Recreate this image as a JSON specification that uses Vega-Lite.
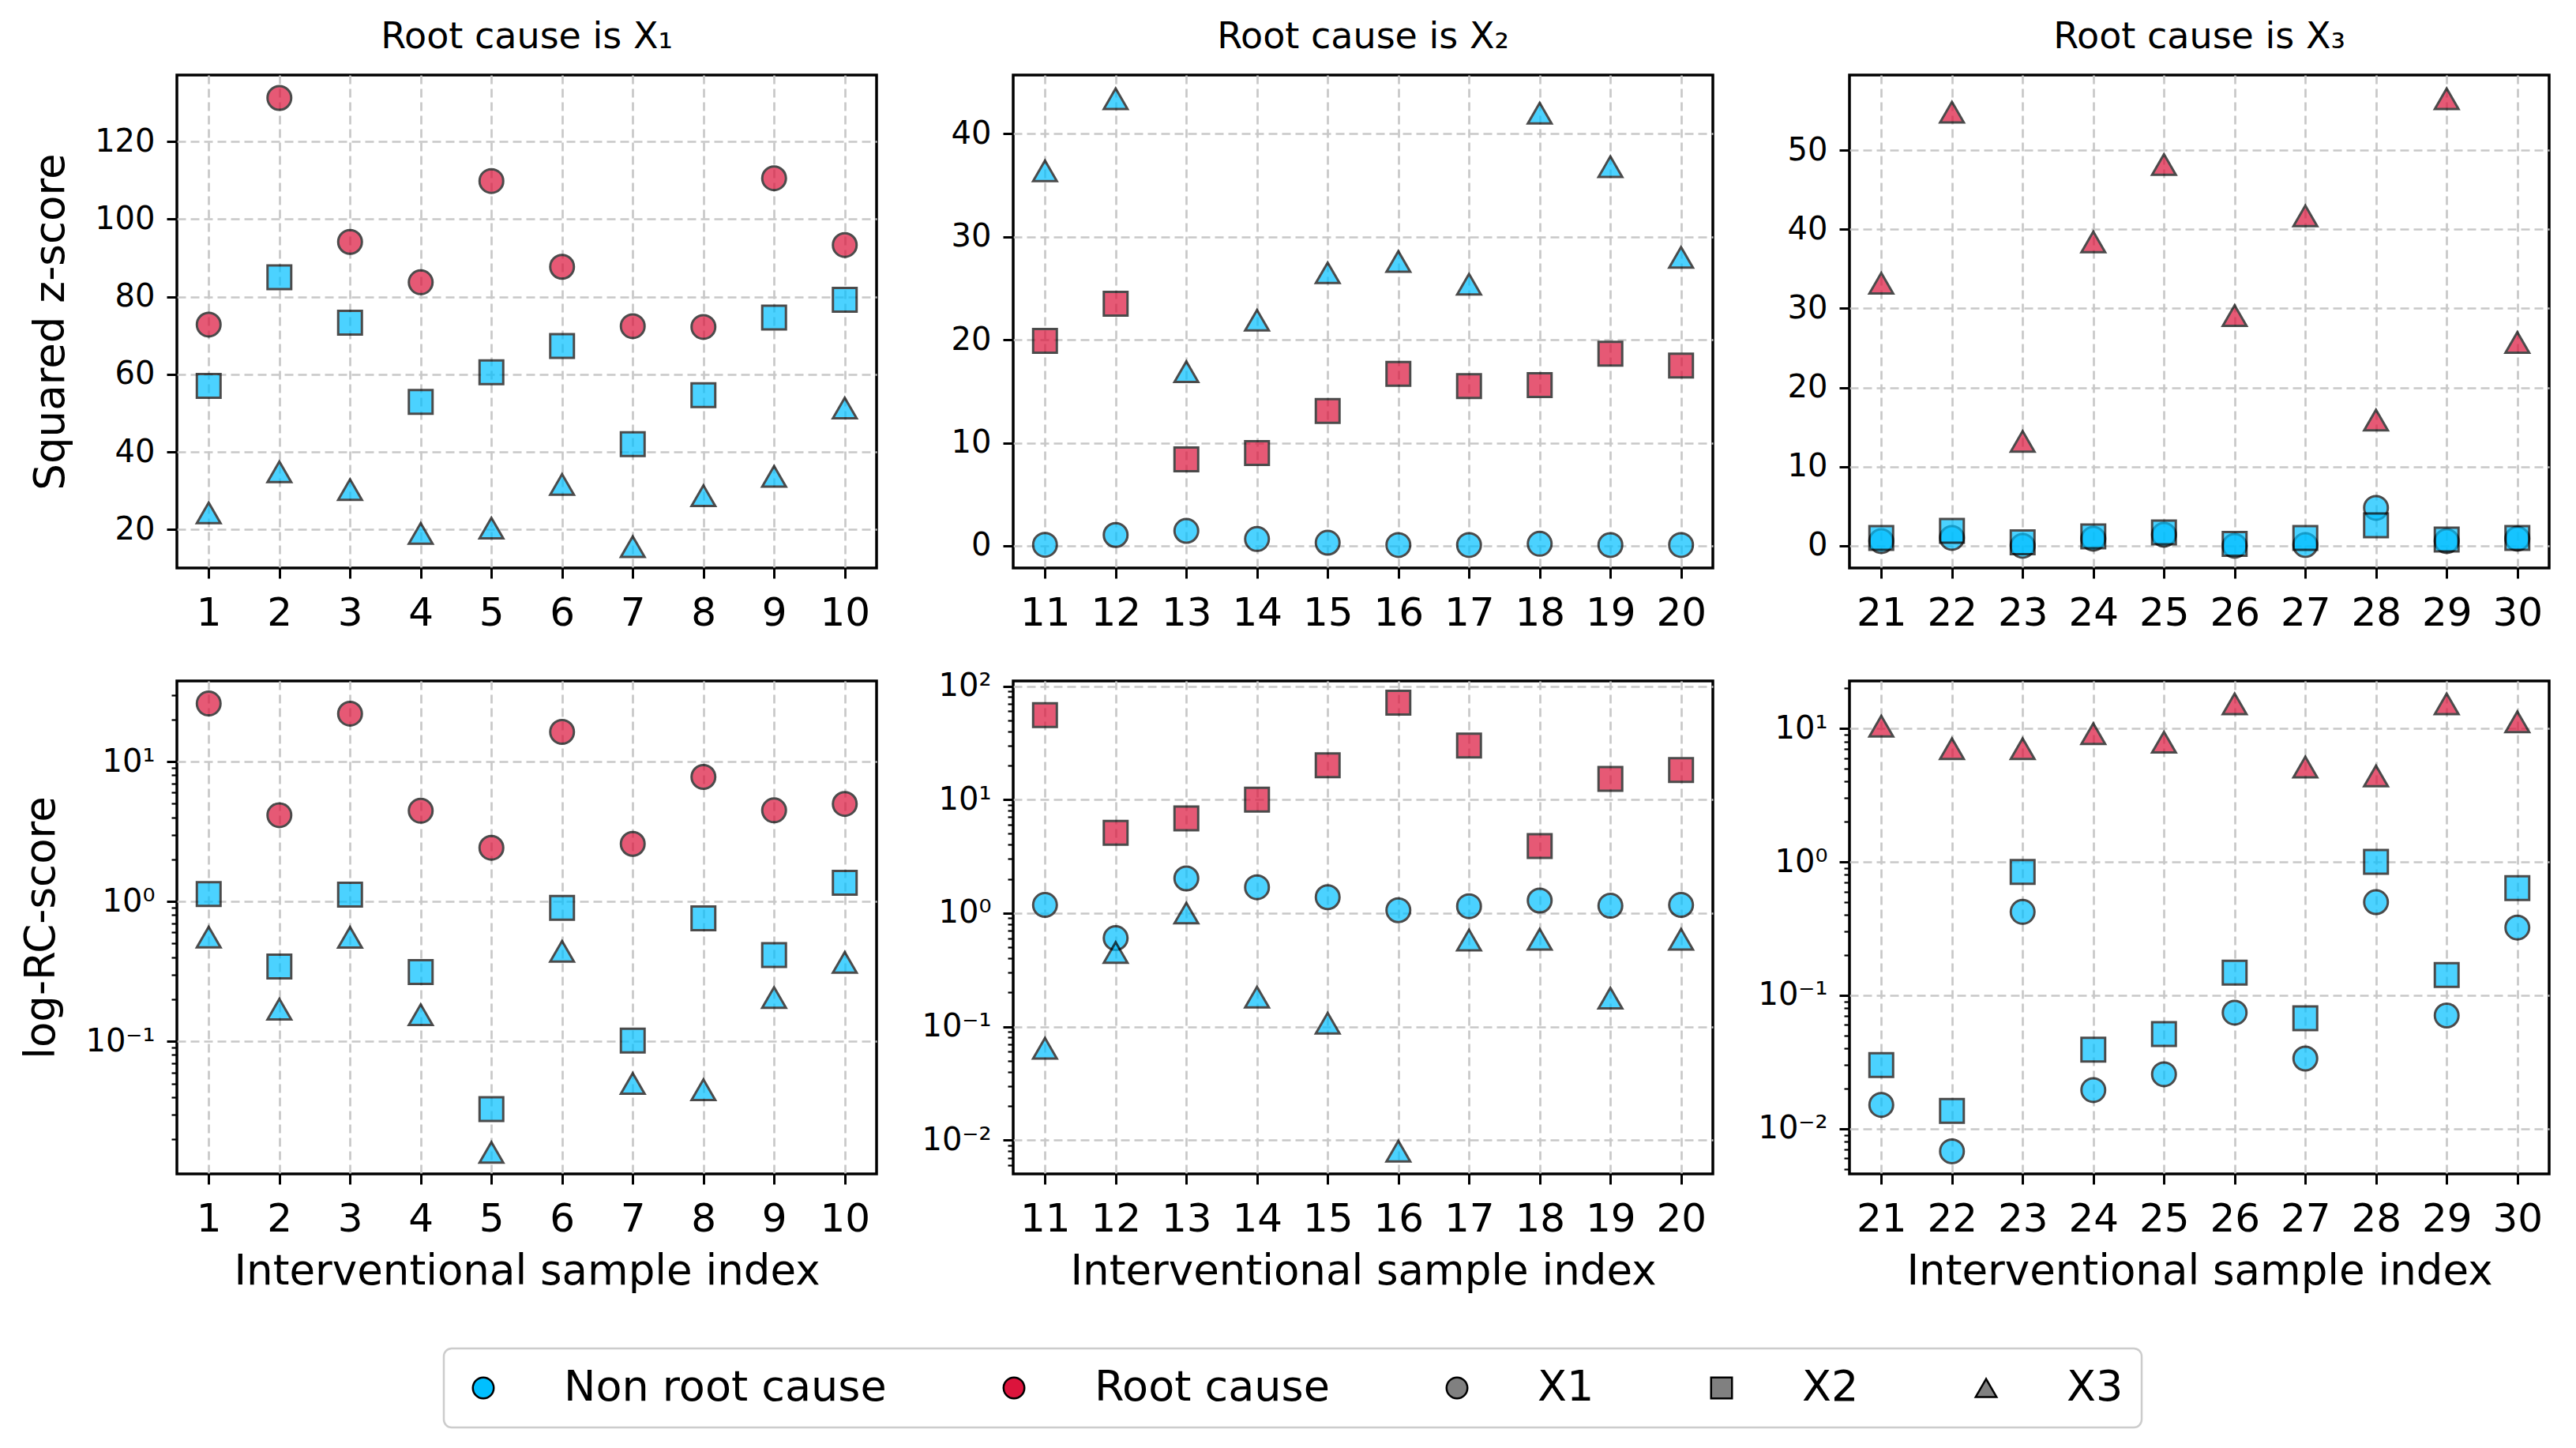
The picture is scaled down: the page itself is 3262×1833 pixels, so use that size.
{
  "$schema": "https://vega.github.io/schema/vega-lite/v6.json",
  "background": "white",
  "padding": {"left": 25, "top": 22, "right": 10, "bottom": 27},
  "columns": 3,
  "align": "each",
  "spacing": {"row": 43, "column": 53},
  "resolve": {"scale": {"x": "independent", "y": "independent"}},
  "data": {"values": [
    {"i":1,"v":"X1","r":"Root cause","z":72.8,"rc":26.0},
    {"i":2,"v":"X1","r":"Root cause","z":131.2,"rc":4.14},
    {"i":3,"v":"X1","r":"Root cause","z":94.1,"rc":22.0},
    {"i":4,"v":"X1","r":"Root cause","z":83.7,"rc":4.45},
    {"i":5,"v":"X1","r":"Root cause","z":109.8,"rc":2.42},
    {"i":6,"v":"X1","r":"Root cause","z":87.7,"rc":16.3},
    {"i":7,"v":"X1","r":"Root cause","z":72.4,"rc":2.58},
    {"i":8,"v":"X1","r":"Root cause","z":72.2,"rc":7.77},
    {"i":9,"v":"X1","r":"Root cause","z":110.5,"rc":4.48},
    {"i":10,"v":"X1","r":"Root cause","z":93.3,"rc":4.98},
    {"i":11,"v":"X1","r":"Non root cause","z":0.1,"rc":1.18},
    {"i":12,"v":"X1","r":"Non root cause","z":1.05,"rc":0.602},
    {"i":13,"v":"X1","r":"Non root cause","z":1.45,"rc":2.02},
    {"i":14,"v":"X1","r":"Non root cause","z":0.66,"rc":1.69},
    {"i":15,"v":"X1","r":"Non root cause","z":0.3,"rc":1.38},
    {"i":16,"v":"X1","r":"Non root cause","z":0.08,"rc":1.06},
    {"i":17,"v":"X1","r":"Non root cause","z":0.08,"rc":1.15},
    {"i":18,"v":"X1","r":"Non root cause","z":0.2,"rc":1.29},
    {"i":19,"v":"X1","r":"Non root cause","z":0.08,"rc":1.16},
    {"i":20,"v":"X1","r":"Non root cause","z":0.08,"rc":1.18},
    {"i":21,"v":"X1","r":"Non root cause","z":0.6,"rc":0.0151},
    {"i":22,"v":"X1","r":"Non root cause","z":1.0,"rc":0.00678},
    {"i":23,"v":"X1","r":"Non root cause","z":0.0,"rc":0.422},
    {"i":24,"v":"X1","r":"Non root cause","z":0.9,"rc":0.0195},
    {"i":25,"v":"X1","r":"Non root cause","z":1.4,"rc":0.0256},
    {"i":26,"v":"X1","r":"Non root cause","z":0.0,"rc":0.0741},
    {"i":27,"v":"X1","r":"Non root cause","z":0.1,"rc":0.0336},
    {"i":28,"v":"X1","r":"Non root cause","z":4.8,"rc":0.499},
    {"i":29,"v":"X1","r":"Non root cause","z":0.6,"rc":0.0706},
    {"i":30,"v":"X1","r":"Non root cause","z":0.9,"rc":0.322},
    {"i":1,"v":"X2","r":"Non root cause","z":57.0,"rc":1.13},
    {"i":2,"v":"X2","r":"Non root cause","z":85.0,"rc":0.343},
    {"i":3,"v":"X2","r":"Non root cause","z":73.3,"rc":1.12},
    {"i":4,"v":"X2","r":"Non root cause","z":52.9,"rc":0.313},
    {"i":5,"v":"X2","r":"Non root cause","z":60.5,"rc":0.0328},
    {"i":6,"v":"X2","r":"Non root cause","z":67.3,"rc":0.9},
    {"i":7,"v":"X2","r":"Non root cause","z":42.0,"rc":0.1014},
    {"i":8,"v":"X2","r":"Non root cause","z":54.6,"rc":0.757},
    {"i":9,"v":"X2","r":"Non root cause","z":74.6,"rc":0.414},
    {"i":10,"v":"X2","r":"Non root cause","z":79.2,"rc":1.36},
    {"i":11,"v":"X2","r":"Root cause","z":19.9,"rc":55.5},
    {"i":12,"v":"X2","r":"Root cause","z":23.5,"rc":5.09},
    {"i":13,"v":"X2","r":"Root cause","z":8.4,"rc":6.84},
    {"i":14,"v":"X2","r":"Root cause","z":9.0,"rc":10.0},
    {"i":15,"v":"X2","r":"Root cause","z":13.1,"rc":20.1},
    {"i":16,"v":"X2","r":"Root cause","z":16.7,"rc":71.5},
    {"i":17,"v":"X2","r":"Root cause","z":15.5,"rc":30.0},
    {"i":18,"v":"X2","r":"Root cause","z":15.6,"rc":3.89},
    {"i":19,"v":"X2","r":"Root cause","z":18.65,"rc":15.2},
    {"i":20,"v":"X2","r":"Root cause","z":17.5,"rc":18.2},
    {"i":21,"v":"X2","r":"Non root cause","z":1.0,"rc":0.03},
    {"i":22,"v":"X2","r":"Non root cause","z":1.9,"rc":0.0136},
    {"i":23,"v":"X2","r":"Non root cause","z":0.45,"rc":0.84},
    {"i":24,"v":"X2","r":"Non root cause","z":1.2,"rc":0.0391},
    {"i":25,"v":"X2","r":"Non root cause","z":1.7,"rc":0.0513},
    {"i":26,"v":"X2","r":"Non root cause","z":0.25,"rc":0.148},
    {"i":27,"v":"X2","r":"Non root cause","z":1.0,"rc":0.0673},
    {"i":28,"v":"X2","r":"Non root cause","z":2.6,"rc":1.0},
    {"i":29,"v":"X2","r":"Non root cause","z":0.8,"rc":0.142},
    {"i":30,"v":"X2","r":"Non root cause","z":1.0,"rc":0.636},
    {"i":1,"v":"X3","r":"Non root cause","z":24.3,"rc":0.557},
    {"i":2,"v":"X3","r":"Non root cause","z":34.9,"rc":0.17},
    {"i":3,"v":"X3","r":"Non root cause","z":30.3,"rc":0.554},
    {"i":4,"v":"X3","r":"Non root cause","z":19.0,"rc":0.155},
    {"i":5,"v":"X3","r":"Non root cause","z":20.4,"rc":0.0161},
    {"i":6,"v":"X3","r":"Non root cause","z":31.6,"rc":0.44},
    {"i":7,"v":"X3","r":"Non root cause","z":15.6,"rc":0.0501},
    {"i":8,"v":"X3","r":"Non root cause","z":28.7,"rc":0.0451},
    {"i":9,"v":"X3","r":"Non root cause","z":33.7,"rc":0.206},
    {"i":10,"v":"X3","r":"Non root cause","z":51.3,"rc":0.367},
    {"i":11,"v":"X3","r":"Non root cause","z":36.4,"rc":0.0645},
    {"i":12,"v":"X3","r":"Non root cause","z":43.4,"rc":0.449},
    {"i":13,"v":"X3","r":"Non root cause","z":16.9,"rc":1.0},
    {"i":14,"v":"X3","r":"Non root cause","z":21.9,"rc":0.182},
    {"i":15,"v":"X3","r":"Non root cause","z":26.5,"rc":0.107},
    {"i":16,"v":"X3","r":"Non root cause","z":27.6,"rc":0.008},
    {"i":17,"v":"X3","r":"Non root cause","z":25.4,"rc":0.578},
    {"i":18,"v":"X3","r":"Non root cause","z":42.0,"rc":0.588},
    {"i":19,"v":"X3","r":"Non root cause","z":36.8,"rc":0.178},
    {"i":20,"v":"X3","r":"Non root cause","z":28.0,"rc":0.588},
    {"i":21,"v":"X3","r":"Root cause","z":33.2,"rc":10.4},
    {"i":22,"v":"X3","r":"Root cause","z":54.8,"rc":7.06},
    {"i":23,"v":"X3","r":"Root cause","z":13.2,"rc":7.06},
    {"i":24,"v":"X3","r":"Root cause","z":38.4,"rc":9.14},
    {"i":25,"v":"X3","r":"Root cause","z":48.2,"rc":7.89},
    {"i":26,"v":"X3","r":"Root cause","z":29.1,"rc":15.3},
    {"i":27,"v":"X3","r":"Root cause","z":41.7,"rc":5.13},
    {"i":28,"v":"X3","r":"Root cause","z":15.9,"rc":4.4},
    {"i":29,"v":"X3","r":"Root cause","z":56.5,"rc":15.3},
    {"i":30,"v":"X3","r":"Root cause","z":25.7,"rc":11.2}
  ]},
  "concat": [
    {
      "width": 886, "height": 624,
      "title": {"text": "Root cause is X₁"},
      "transform": [{"filter": "datum.i <= 10"}],
      "mark": {"type": "point", "filled": true, "size": 900, "stroke": "black", "strokeWidth": 3, "opacity": 0.7},
      "encoding": {
        "x": {"field": "i", "type": "quantitative", "scale": {"domain": [0.55, 10.45], "nice": false, "zero": false}, "axis": {"values": [1,2,3,4,5,6,7,8,9,10], "format": "d", "title": null}},
        "y": {"field": "z", "type": "quantitative", "scale": {"domain": [10.1, 137.1], "nice": false, "zero": false}, "axis": {"values": [20,40,60,80,100,120], "title": "Squared z-score", "titlePadding": 28}},
        "color": {"field": "r", "type": "nominal", "scale": {"domain": ["Non root cause","Root cause","X1","X2","X3"], "range": ["#00BFFF","#DC143C","#808080","#808080","#808080"]}, "legend": {"title": null, "encode": {"symbols": {"update": {"shape": {"signal": "datum.value === 'X2' ? 'square' : datum.value === 'X3' ? 'triangle-up' : 'circle'"}, "opacity": {"value": 1}, "stroke": {"value": "black"}, "strokeWidth": {"value": 2.5}}}}}},
        "shape": {"field": "v", "type": "nominal", "scale": {"domain": ["X1","X2","X3"], "range": ["circle","square","triangle-up"]}, "legend": null}
      }
    },
    {
      "width": 886, "height": 624,
      "title": {"text": "Root cause is X₂"},
      "transform": [{"filter": "datum.i > 10 && datum.i <= 20"}],
      "mark": {"type": "point", "filled": true, "size": 900, "stroke": "black", "strokeWidth": 3, "opacity": 0.7},
      "encoding": {
        "x": {"field": "i", "type": "quantitative", "scale": {"domain": [10.55, 20.45], "nice": false, "zero": false}, "axis": {"values": [11,12,13,14,15,16,17,18,19,20], "format": "d", "title": null}},
        "y": {"field": "z", "type": "quantitative", "scale": {"domain": [-2.15, 45.7], "nice": false, "zero": false}, "axis": {"values": [0,10,20,30,40], "title": null}},
        "color": {"field": "r", "type": "nominal", "scale": {"domain": ["Non root cause","Root cause","X1","X2","X3"], "range": ["#00BFFF","#DC143C","#808080","#808080","#808080"]}, "legend": {"title": null, "encode": {"symbols": {"update": {"shape": {"signal": "datum.value === 'X2' ? 'square' : datum.value === 'X3' ? 'triangle-up' : 'circle'"}, "opacity": {"value": 1}, "stroke": {"value": "black"}, "strokeWidth": {"value": 2.5}}}}}},
        "shape": {"field": "v", "type": "nominal", "scale": {"domain": ["X1","X2","X3"], "range": ["circle","square","triangle-up"]}, "legend": null}
      }
    },
    {
      "width": 886, "height": 624,
      "title": {"text": "Root cause is X₃"},
      "transform": [{"filter": "datum.i > 20"}],
      "mark": {"type": "point", "filled": true, "size": 900, "stroke": "black", "strokeWidth": 3, "opacity": 0.7},
      "encoding": {
        "x": {"field": "i", "type": "quantitative", "scale": {"domain": [20.55, 30.45], "nice": false, "zero": false}, "axis": {"values": [21,22,23,24,25,26,27,28,29,30], "format": "d", "title": null}},
        "y": {"field": "z", "type": "quantitative", "scale": {"domain": [-2.8, 59.5], "nice": false, "zero": false}, "axis": {"values": [0,10,20,30,40,50], "title": null}},
        "color": {"field": "r", "type": "nominal", "scale": {"domain": ["Non root cause","Root cause","X1","X2","X3"], "range": ["#00BFFF","#DC143C","#808080","#808080","#808080"]}, "legend": {"title": null, "encode": {"symbols": {"update": {"shape": {"signal": "datum.value === 'X2' ? 'square' : datum.value === 'X3' ? 'triangle-up' : 'circle'"}, "opacity": {"value": 1}, "stroke": {"value": "black"}, "strokeWidth": {"value": 2.5}}}}}},
        "shape": {"field": "v", "type": "nominal", "scale": {"domain": ["X1","X2","X3"], "range": ["circle","square","triangle-up"]}, "legend": null}
      }
    },
    {
      "width": 886, "height": 624,
      "transform": [{"filter": "datum.i <= 10"}],
      "mark": {"type": "point", "filled": true, "size": 900, "stroke": "black", "strokeWidth": 3, "opacity": 0.7},
      "encoding": {
        "x": {"field": "i", "type": "quantitative", "scale": {"domain": [0.55, 10.45], "nice": false, "zero": false}, "axis": {"values": [1,2,3,4,5,6,7,8,9,10], "format": "d", "title": "Interventional sample index", "titlePadding": 15}},
        "y": {"field": "rc", "type": "quantitative", "scale": {"type": "log", "domain": [0.0113, 37.7], "nice": false}, "axis": {
          "values": [0.02,0.03,0.04,0.05,0.06,0.07,0.08,0.09,0.1,0.2,0.3,0.4,0.5,0.6,0.7,0.8,0.9,1,2,3,4,5,6,7,8,9,10,20,30],
          "title": "log-RC-score", "titlePadding": 28,
          "labelExpr": "abs(log(datum.value)/LN10 - round(log(datum.value)/LN10)) < 0.01 ? '10' + (round(log(datum.value)/LN10) == 2 ? '²' : round(log(datum.value)/LN10) == 1 ? '¹' : round(log(datum.value)/LN10) == 0 ? '⁰' : round(log(datum.value)/LN10) == -1 ? '⁻¹' : '⁻²') : ''",
          "tickSize": {"condition": {"test": "abs(log(datum.value)/LN10 - round(log(datum.value)/LN10)) < 0.01", "value": 13}, "value": 7},
          "tickWidth": {"condition": {"test": "abs(log(datum.value)/LN10 - round(log(datum.value)/LN10)) < 0.01", "value": 3}, "value": 2.2},
          "gridOpacity": {"condition": {"test": "abs(log(datum.value)/LN10 - round(log(datum.value)/LN10)) < 0.01", "value": 1}, "value": 0}
        }},
        "color": {"field": "r", "type": "nominal", "scale": {"domain": ["Non root cause","Root cause","X1","X2","X3"], "range": ["#00BFFF","#DC143C","#808080","#808080","#808080"]}, "legend": {"title": null, "encode": {"symbols": {"update": {"shape": {"signal": "datum.value === 'X2' ? 'square' : datum.value === 'X3' ? 'triangle-up' : 'circle'"}, "opacity": {"value": 1}, "stroke": {"value": "black"}, "strokeWidth": {"value": 2.5}}}}}},
        "shape": {"field": "v", "type": "nominal", "scale": {"domain": ["X1","X2","X3"], "range": ["circle","square","triangle-up"]}, "legend": null}
      }
    },
    {
      "width": 886, "height": 624,
      "transform": [{"filter": "datum.i > 10 && datum.i <= 20"}],
      "mark": {"type": "point", "filled": true, "size": 900, "stroke": "black", "strokeWidth": 3, "opacity": 0.7},
      "encoding": {
        "x": {"field": "i", "type": "quantitative", "scale": {"domain": [10.55, 20.45], "nice": false, "zero": false}, "axis": {"values": [11,12,13,14,15,16,17,18,19,20], "format": "d", "title": "Interventional sample index", "titlePadding": 15}},
        "y": {"field": "rc", "type": "quantitative", "scale": {"type": "log", "domain": [0.00504, 111], "nice": false}, "axis": {
          "values": [0.006,0.007,0.008,0.009,0.01,0.02,0.03,0.04,0.05,0.06,0.07,0.08,0.09,0.1,0.2,0.3,0.4,0.5,0.6,0.7,0.8,0.9,1,2,3,4,5,6,7,8,9,10,20,30,40,50,60,70,80,90,100],
          "title": null,
          "labelExpr": "abs(log(datum.value)/LN10 - round(log(datum.value)/LN10)) < 0.01 ? '10' + (round(log(datum.value)/LN10) == 2 ? '²' : round(log(datum.value)/LN10) == 1 ? '¹' : round(log(datum.value)/LN10) == 0 ? '⁰' : round(log(datum.value)/LN10) == -1 ? '⁻¹' : '⁻²') : ''",
          "tickSize": {"condition": {"test": "abs(log(datum.value)/LN10 - round(log(datum.value)/LN10)) < 0.01", "value": 13}, "value": 7},
          "tickWidth": {"condition": {"test": "abs(log(datum.value)/LN10 - round(log(datum.value)/LN10)) < 0.01", "value": 3}, "value": 2.2},
          "gridOpacity": {"condition": {"test": "abs(log(datum.value)/LN10 - round(log(datum.value)/LN10)) < 0.01", "value": 1}, "value": 0}
        }},
        "color": {"field": "r", "type": "nominal", "scale": {"domain": ["Non root cause","Root cause","X1","X2","X3"], "range": ["#00BFFF","#DC143C","#808080","#808080","#808080"]}, "legend": {"title": null, "encode": {"symbols": {"update": {"shape": {"signal": "datum.value === 'X2' ? 'square' : datum.value === 'X3' ? 'triangle-up' : 'circle'"}, "opacity": {"value": 1}, "stroke": {"value": "black"}, "strokeWidth": {"value": 2.5}}}}}},
        "shape": {"field": "v", "type": "nominal", "scale": {"domain": ["X1","X2","X3"], "range": ["circle","square","triangle-up"]}, "legend": null}
      }
    },
    {
      "width": 886, "height": 624,
      "transform": [{"filter": "datum.i > 20"}],
      "mark": {"type": "point", "filled": true, "size": 900, "stroke": "black", "strokeWidth": 3, "opacity": 0.7},
      "encoding": {
        "x": {"field": "i", "type": "quantitative", "scale": {"domain": [20.55, 30.45], "nice": false, "zero": false}, "axis": {"values": [21,22,23,24,25,26,27,28,29,30], "format": "d", "title": "Interventional sample index", "titlePadding": 15}},
        "y": {"field": "rc", "type": "quantitative", "scale": {"type": "log", "domain": [0.00459, 22.7], "nice": false}, "axis": {
          "values": [0.005,0.006,0.007,0.008,0.009,0.01,0.02,0.03,0.04,0.05,0.06,0.07,0.08,0.09,0.1,0.2,0.3,0.4,0.5,0.6,0.7,0.8,0.9,1,2,3,4,5,6,7,8,9,10,20],
          "title": null,
          "labelExpr": "abs(log(datum.value)/LN10 - round(log(datum.value)/LN10)) < 0.01 ? '10' + (round(log(datum.value)/LN10) == 2 ? '²' : round(log(datum.value)/LN10) == 1 ? '¹' : round(log(datum.value)/LN10) == 0 ? '⁰' : round(log(datum.value)/LN10) == -1 ? '⁻¹' : '⁻²') : ''",
          "tickSize": {"condition": {"test": "abs(log(datum.value)/LN10 - round(log(datum.value)/LN10)) < 0.01", "value": 13}, "value": 7},
          "tickWidth": {"condition": {"test": "abs(log(datum.value)/LN10 - round(log(datum.value)/LN10)) < 0.01", "value": 3}, "value": 2.2},
          "gridOpacity": {"condition": {"test": "abs(log(datum.value)/LN10 - round(log(datum.value)/LN10)) < 0.01", "value": 1}, "value": 0}
        }},
        "color": {"field": "r", "type": "nominal", "scale": {"domain": ["Non root cause","Root cause","X1","X2","X3"], "range": ["#00BFFF","#DC143C","#808080","#808080","#808080"]}, "legend": {"title": null, "encode": {"symbols": {"update": {"shape": {"signal": "datum.value === 'X2' ? 'square' : datum.value === 'X3' ? 'triangle-up' : 'circle'"}, "opacity": {"value": 1}, "stroke": {"value": "black"}, "strokeWidth": {"value": 2.5}}}}}},
        "shape": {"field": "v", "type": "nominal", "scale": {"domain": ["X1","X2","X3"], "range": ["circle","square","triangle-up"]}, "legend": null}
      }
    }
  ],
  "config": {
    "font": "DejaVu Sans",
    "view": {"stroke": "black", "strokeWidth": 3.5},
    "axis": {
      "domain": false, "grid": true, "gridColor": "#c8c8c8", "gridDash": [11, 6], "gridWidth": 2.7,
      "tickColor": "black", "tickWidth": 3, "tickSize": 13,
      "labelColor": "black", "labelFont": "DejaVu Sans", "labelOverlap": false, "labelFlush": false,
      "titleFont": "DejaVu Sans", "titleFontWeight": "normal", "titleColor": "black", "titleFontSize": 53
    },
    "axisX": {"labelFontSize": 50, "labelPadding": 19, "labelAngle": 0},
    "axisY": {"labelFontSize": 40, "labelPadding": 15},
    "title": {"fontSize": 46, "fontWeight": "normal", "font": "DejaVu Sans", "color": "black", "offset": 24, "baseline": "alphabetic", "anchor": "middle"},
    "legend": {
      "orient": "none", "legendX": 338, "legendY": 1612, "direction": "horizontal", "columns": 5, "gridAlign": "none",
      "labelFontSize": 54, "labelFont": "DejaVu Sans", "labelColor": "black", "labelLimit": 1000,
      "symbolSize": 700, "symbolStrokeWidth": 2.5, "symbolStrokeColor": "black", "symbolOpacity": 1,
      "labelOffset": 75, "columnPadding": 134, "padding": 23,
      "strokeColor": "#cccccc", "strokeWidth": 2.5, "cornerRadius": 10, "fillColor": "white"
    }
  }
}
